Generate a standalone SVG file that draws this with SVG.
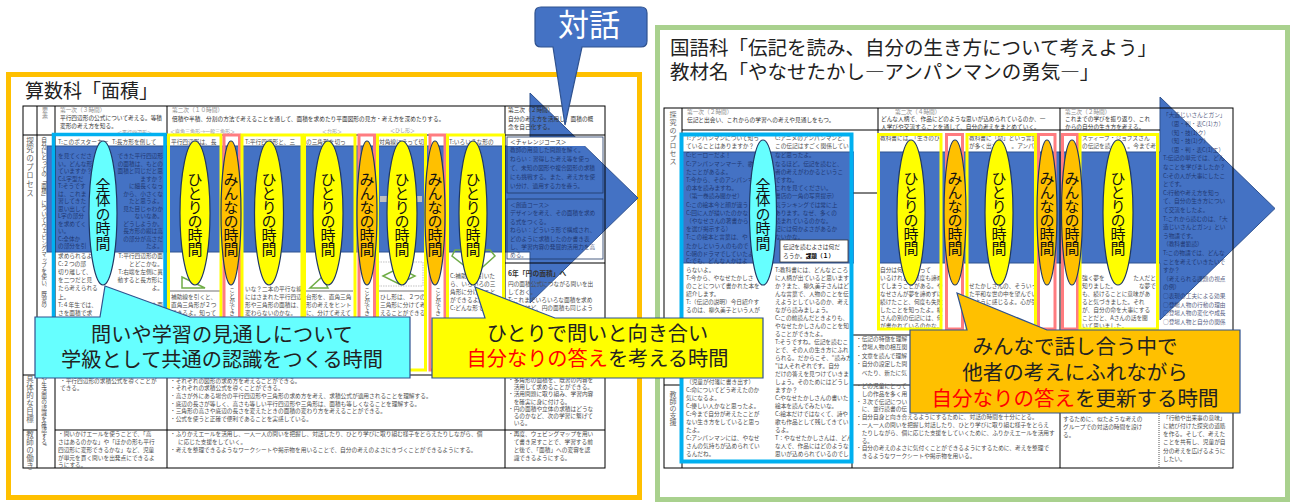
<svg xmlns="http://www.w3.org/2000/svg" width="1294" height="502" viewBox="0 0 1294 502">
<style>
.j{font-family:"Noto Sans CJK JP","Noto Sans",sans-serif}
.s{font-size:5.7px;fill:#4d4d4d}
.g{fill:#8c8c8c}
.k{fill:#333}
.d{fill:#152757;opacity:.75}
.v{writing-mode:vertical-rl}
.lb{font-size:7.5px;fill:#666}
.e{font-size:15px;fill:#111;text-anchor:middle;writing-mode:vertical-rl;letter-spacing:-1px}
.e5{letter-spacing:-0.5px}
.cl{font-size:20.2px;fill:#222;text-anchor:middle}
.yb{fill:none;stroke:#FFFF00;stroke-width:3}
.pb{fill:none;stroke:#FF7C80;stroke-width:3}
.cb{fill:none;stroke:#00B0F0;stroke-width:3.5}
.tl{fill:none;stroke:#000;stroke-width:1}
.fig{fill:none;stroke:#70AD47;stroke-width:1.5}
.dot{fill:none;stroke:#999;stroke-width:.6;stroke-dasharray:1.5 1}
.ey{fill:#FFFF00;stroke:#1F3864;stroke-width:1.2}
.eo{fill:#FFC000;stroke:#1F3864;stroke-width:1.2}
.ec{fill:#66FFFF;stroke:#1F3864;stroke-width:1.2}
.arr{fill:#4472C4;stroke:#2F528F;stroke-width:1}
</style>
<rect width="1294" height="502" fill="#fff"/>
<g class="j">

<!-- ===== LEFT PANEL ===== -->
<g id="left-panel">
<rect x="8.5" y="74.5" width="631" height="423" fill="#fff" stroke="#FFC000" stroke-width="5"/>
<text x="25" y="98" font-size="19" fill="#222">算数科「面積」</text>
</g>

<g id="left-arrow">
<path class="arr" d="M47,146 H530 V93 L638,198 L530,303 V252 H47 Z"/>
<rect x="507" y="137" width="96" height="9" fill="#fff"/>
</g>

<g id="left-table">
<rect class="tl" x="23" y="106" width="582" height="362"/>
<path class="tl" d="M37,106V468 M55,106V468 M167,106V468 M505,106V468 M23,135H605 M23,375H37 M55,375H605 M23,430H37 M55,430H605 M505,263H605"/>
<rect x="507" y="137" width="96" height="56" fill="none" stroke="#1F3864" stroke-width=".8"/>
<rect x="507" y="199" width="96" height="60" fill="none" stroke="#1F3864" stroke-width=".8"/>
<path d="M170,291H220 M306,291H353 M379,291H424" stroke="#333" stroke-width=".7"/>
<rect x="380" y="196" width="42" height="6" fill="#bfbfbf"/>
<text class="lb v" x="30" y="137" letter-spacing="1.2">探究のプロセス</text>
<text class="lb v" x="30" y="375" letter-spacing=".5">具体的な目標</text>
<text class="lb v" x="30" y="430" letter-spacing=".5">教師の働き</text>
<text class="s g v" x="45" y="107" style="font-size:6px">要素</text>
<text class="s v" x="44" y="137">自分にとっての「面積」についてウェビングマップを使い、既習の</text>
<text class="s v" x="44" y="376">や生活面の認識を確認する。</text>
<text class="s g" x="60" y="112">第一次（３時間）</text>
<text class="s k" x="60" y="120">平行四辺形の公式について考える。等積</text>
<text class="s k" x="60" y="128">変形の考え方を知る。</text>
<text class="s g" x="117" y="134" style="font-size:5px">＜平行四辺形＞</text>
<text class="s g" x="172" y="112">第二次（１０時間）</text>
<text class="s k" x="172" y="121">倍積や半積、分割の方法で考えることを通して、面積を求めたり平面図形の見方・考え方を深めたりする。</text>
<text class="s g" x="170" y="133" style="font-size:5px">＜直角三角形→一般三角形＞</text>
<text class="s g" x="322" y="133" style="font-size:5px">＜台形＞</text>
<text class="s g" x="390" y="132" style="font-size:5px">＜ひし形＞</text>
<text class="s k" x="508" y="112">第三次（２時間）</text>
<text class="s k" x="508" y="121">自分の考え方を活用し、面積の概</text>
<text class="s k" x="508" y="129">念を自己化する。</text>
<text class="s" x="58" y="144">T:このポスターカー</text>
<text class="s" x="112" y="144">T:長方形を倒して</text>
<text class="s" x="171" y="144">平行四辺形は、長</text>
<text class="s" x="245" y="144">T:平行四辺形と、三</text>
<text class="s" x="306" y="144">の三角形を切っ</text>
<text class="s" x="379" y="144">対角線にそって切</text>
<text class="s" x="449" y="144">T:いろいろな形の</text>
<text class="s k" x="510" y="144">＜チャレンジコース＞</text>
<g class="s d">
<text x="58" y="158">を見てくださ</text><text x="163" y="158" text-anchor="end">できた平行四辺形</text>
<text x="58" y="165.5">い。どんな形</text><text x="163" y="165.5" text-anchor="end">の面積は、もとの</text>
<text x="58" y="173">ていますか？</text><text x="163" y="173" text-anchor="end">面積と同じだと思</text>
<text x="58" y="180.5">C:L字型だ</text><text x="163" y="180.5" text-anchor="end">ますか？</text>
<text x="58" y="188">T:そうです</text><text x="163" y="188" text-anchor="end">に細長くなっ</text>
<text x="58" y="195.5">は、これま</text><text x="163" y="195.5" text-anchor="end">から、小さくな</text>
<text x="58" y="203">習してきた</text><text x="163" y="203" text-anchor="end">たと思うよ。</text>
<text x="58" y="210.5">思い出して</text><text x="163" y="210.5" text-anchor="end">見た目じゃわか</text>
<text x="58" y="218">L字の部分</text><text x="163" y="218" text-anchor="end">ないなあ。</text>
<text x="58" y="225.5">を求めてく</text><text x="163" y="225.5" text-anchor="end">どうしようか。</text>
<text x="58" y="233">い。</text><text x="163" y="233" text-anchor="end">長方形の縦は高</text>
<text x="58" y="240.5">C:全体か</text><text x="163" y="240.5" text-anchor="end">の部分が高さだ</text>
<text x="58" y="248">の部分を引</text><text x="163" y="248" text-anchor="end">たよ。</text>
<text x="510" y="152">教師の用意した問題を解く。</text>
<text x="510" y="161">ねらい：習得した考え等を使っ</text>
<text x="510" y="170">て、未知の図形や複合図形の求積</text>
<text x="510" y="179">にも挑戦する。また、考え方を使</text>
<text x="510" y="188">い分け、適用する力を養う。</text>
<text x="510" y="206.5">＜創造コース＞</text>
<text x="510" y="215">デザインを考え、その面積を求め</text>
<text x="510" y="223.5">る式をつくる。</text>
<text x="510" y="232">ねらい：どういう形で構成され、</text>
<text x="510" y="240.5">どのように求積したのか書き表</text>
<text x="510" y="249">し、学習内容の発展的活用力を高</text>
<text x="510" y="257">める。</text>
</g>
<g class="s">
<text x="58" y="258">求められるよ</text><text x="163" y="258" text-anchor="end">T:平行四辺形の面</text>
<text x="58" y="265.5">C:２つの部</text><text x="163" y="265.5" text-anchor="end">とどこかな。</text>
<text x="58" y="274">切り離して、</text><text x="163" y="274" text-anchor="end">T:右端を左側に異</text>
<text x="58" y="282">を二つだと見</text><text x="163" y="282" text-anchor="end">動すると長方形に</text>
<text x="58" y="289.5">たら考えられる</text><text x="163" y="289.5" text-anchor="end">よ。</text>
<text x="58" y="298.5">上。</text>
<text x="58" y="307">T:４年生では、</text><text x="163" y="307" text-anchor="end">も面</text>
<text x="58" y="315">さを面積で求</text>
<text x="171" y="298.5">補助線を引くと、</text>
<text x="171" y="307">直角三角形が２つ</text>
<text x="171" y="315">できるよ。知って</text>
<text x="245" y="290.5">いな？二本の平行な線</text>
<text x="245" y="298.5">にはさまれた平行四辺</text>
<text x="245" y="307">形や三角形の面積は、</text>
<text x="245" y="315">変わらないのかな。</text>
<text x="306" y="298.5">台形を、直角三角</text>
<text x="306" y="307">形の考えをヒント</text>
<text x="306" y="315">に、分けて考えて</text>
<text x="380" y="298.5">ひし形は、２つの</text>
<text x="380" y="307">三角形に分けて考</text>
<text x="380" y="315">えることができる</text>
<text x="450" y="277.5">C:補助線を引いた</text>
<text x="450" y="285.5">ら、いろいろの三</text>
<text x="450" y="294">角形に分けること</text>
<text x="450" y="302">ができるよ。</text>
<text x="450" y="310">C:どんな形でも</text>
<text class="v" x="232" y="287">ことができ</text>
<text class="v" x="367" y="287">ことができ</text>
<text class="v" x="438" y="287">ことができ</text>
<text x="508" y="276" style="font-size:6.8px;font-weight:bold;fill:#333">6年「円の面積」へ</text>
<text x="508" y="285.5">円の面積公式につながる問いを出</text>
<text x="508" y="293.5">しておく。</text>
<text x="508" y="301.5">T:これまでいろいろな面積を求め</text>
<text x="508" y="309.5">てきたけど、円の面積も同じよう</text>
<text x="60" y="382.5">・平行四辺形の求積公式を導くことが</text>
<text x="60" y="390.2">できる。</text>
<text x="170" y="382.5">・それぞれの図形の求め方を考えることができる。</text>
<text x="170" y="390.2">・それぞれの求積公式を導くことができる。</text>
<text x="170" y="397.9">・高さが外にある場合の平行四辺形や三角形の求め方を考え、求積公式が適用されることを理解する。</text>
<text x="170" y="405.6">・底辺の長さが等しく、高さも等しい平行四辺形や三角形は、面積も等しくなることを理解する。</text>
<text x="170" y="413.3">・三角形の高さや底辺の長さを変えたときの面積の変わり方を考えることができる。</text>
<text x="170" y="421">・公式を使うと正確で便利であることを実感している。</text>
<text x="508" y="382">・多角形の面積を、既習の内容を</text>
<text x="508" y="389.2">　活用して求めることができる。</text>
<text x="508" y="396.4">・活用問題に取り組み、学習内容</text>
<text x="508" y="403.6">　を確実に身に付ける。</text>
<text x="508" y="410.8">・円の面積や立体の求積はどうな</text>
<text x="508" y="418">　るのかなど、次の学習に繋げて</text>
<text x="508" y="425.2">　いる。</text>
<text x="58" y="435.5">・問いかけエールを使うことで、「高</text>
<text x="58" y="443.5">さはあるのかな」や「ほかの形も平行</text>
<text x="58" y="451.5">四辺形に変形できるかな」など、児童</text>
<text x="58" y="459.5">が単元を貫く問いを出発点にできるよ</text>
<text x="58" y="467">うにする。</text>
<text x="170" y="435.5">・ふりかえエールを活用し、一人一人の問いを把握し、対話したり、ひとり学びに取り組む様子をとらえたりしながら、個</text>
<text x="178" y="443.5">に応じた支援をしていく。</text>
<text x="170" y="452">・考えを整理できるようなワークシートや掲示物を用いることで、自分の考えのよさにきづくことができるようにする。</text>
<text x="508" y="436">・再度、ウェビングマップを用い</text>
<text x="508" y="444">　て書き足すことで、学習する前</text>
<text x="508" y="452">　と後で、「面積」への変容を認</text>
<text x="508" y="460">　識できるようにする。</text>
</g>
<polygon class="fig" points="182,277 182,288 205,288"/>
<polygon class="fig" points="310,288 328,288 322,277"/>
<rect class="dot" x="378" y="262" width="45" height="24"/>
<polygon class="fig" points="383,276 399,268 415,276 399,284"/>
<polygon class="fig" points="455,250 490,250 495,256 475,274 452,256"/>
<rect class="cb" x="53.5" y="134.5" width="111.5" height="237"/>
<rect class="yb" x="168.5" y="135" width="52.5" height="235"/>
<rect class="pb" x="224" y="135" width="15.5" height="235"/>
<rect class="yb" x="242" y="135" width="60" height="235"/>
<rect class="yb" x="304.5" y="135" width="50.5" height="235"/>
<rect class="pb" x="359" y="135" width="15.5" height="235"/>
<rect class="yb" x="377.5" y="135" width="48" height="235"/>
<rect class="pb" x="430" y="135" width="15" height="235"/>
<rect class="yb" x="447.5" y="135" width="56" height="235"/>
</g>

<!-- ===== RIGHT PANEL ===== -->
<g id="right-panel">
<rect x="657.5" y="27.5" width="630" height="472" fill="#fff" stroke="#A9D18E" stroke-width="5"/>
<text x="670" y="55.4" font-size="19.5" fill="#222">国語科「伝記を読み、自分の生き方について考えよう」</text>
<text x="670" y="79.4" font-size="19.5" fill="#222">教材名「やなせたかし―アンパンマンの勇気―」</text>
</g>

<g id="right-arrow">
<path class="arr" d="M682,152 H1160 V97 L1275,208.5 L1160,320 V263 H682 Z"/>
<rect x="854" y="133" width="23" height="131" fill="#fff"/>
</g>

<g id="right-table">
<rect class="tl" x="664" y="108" width="569" height="360"/>
<path class="tl" d="M682,108V468 M878,108V133 M852,133V468 M1060,108V468 M682,130H1160 M852,193H878 M852,335H1160 M664,385H682 M852,385H1233"/>
<path d="M1159,330V468" stroke="#aaa" stroke-width="2" stroke-dasharray="1 1"/>
<text class="lb v" x="673" y="111" letter-spacing=".8" style="font-size:7px">探究のプロセス</text>
<text class="lb v" x="673" y="391" style="font-size:7px">教師の支援</text>
<g class="s">
<text class="g" x="687" y="113.5">第一次（２時間）</text>
<text class="k" x="687" y="121.5">伝記と出会い、これからの学習への考えや見通しをもつ。</text>
<text class="g" x="895" y="113.5">第二次（４時間）</text>
<text class="k" x="881" y="121">どんな人柄で、作品にどのような思いが込められているのか、一</text>
<text class="k" x="881" y="129">人学びや交流することを通して、自分の考えをまとめていく。</text>
<text class="g" x="1065" y="113.5">第三次（２時間）</text>
<text class="k" x="1065" y="121">これまでの学びを振り返り、これ</text>
<text class="k" x="1065" y="129">からの自分の生き方を考える。</text>
<text x="686" y="139.5">T:アンパンマンについて知っ</text>
<text x="686" y="148">ていることはありますか？</text>
<text x="775" y="139.5">C:アニメのアンパンマンと、</text>
<text x="775" y="148">この伝記はすごく関係してい</text>
<text x="880" y="139.5">教科書には、「生きのひ</text>
<text x="969" y="139.5">教科書に「命」という言葉</text>
<text x="969" y="148">が多く出て</text><text x="1034" y="148" text-anchor="end">。アンパ</text>
<text x="1082" y="139.5">スティーブ・ジョブズさん</text>
<text x="1082" y="148">の伝記を読</text><text x="1156" y="148" text-anchor="end">。今まで考</text>
</g>
<g class="s d">
<text x="686" y="157.3">C:ヒーローだよ！</text><text x="775" y="157.3">など思ったよ。</text>
<text x="686" y="165.5">C:アンパンマンマーチ、歌</text><text x="775" y="165.5">なるほど。伝記を読むと、</text>
<text x="686" y="173.7">たことがあるよ。</text><text x="775" y="173.7">者の考えがわかるというこ</text>
<text x="686" y="181.9">T:今から、そのアンパンマ</text><text x="775" y="181.9">ですね。</text>
<text x="686" y="190.1">の本を読みますね。</text><text x="775" y="190.1">これを見てください。</text>
<text x="686" y="198.3">（第一巻読み聞かせ）</text><text x="775" y="198.3">書店の一角の写真提示）</text>
<text x="686" y="206.5">C:この絵本今と顔が違う</text><text x="775" y="206.5">気ランキングでは常に上</text>
<text x="686" y="214.7">C:回に人が描いたのかな</text><text x="775" y="214.7">あります。なぜ、多くの</text>
<text x="686" y="222.9">（やなせさんの著書から</text><text x="775" y="222.9">読まれているのかな。</text>
<text x="686" y="231.1">を選び掲示する）</text><text x="775" y="231.1">記には何かよさがあるか</text>
<text x="686" y="239.3">T:この絵本と言葉は、や</text><text x="775" y="239.3">ないかな。</text>
<text x="686" y="247.5">たかしという人のもので</text>
<text x="686" y="255.7">C:朝のドラマでしていたよ</text>
<text x="686" y="263">C:でも、どんな人かはよ</text>
<text x="1163" y="117.3">「大造じいさんとガン」</text>
<text x="1168" y="125.9">（思・判・表C(1)カ）</text>
<text x="1168" y="134.5">（知・技(1)ク）</text>
<text x="1168" y="143.1">（知・技(1)ク）</text>
<text x="1168" y="151.7">（思・判・表C(1)エ）</text>
<text x="1163" y="160.3">T:伝記の単元では、どん</text>
<text x="1163" y="168.9">なことを学びましたか？</text>
<text x="1163" y="177.5">C:その人が大事にしたこ</text>
<text x="1163" y="186.1">とです。</text>
<text x="1163" y="194.7">C:行動や考え方を知っ</text>
<text x="1163" y="203.3">て、自分の生き方につい</text>
<text x="1163" y="211.9">て交流をしたよ。</text>
<text x="1163" y="220.5">T:これから読むのは、「大</text>
<text x="1163" y="229.1">造じいさんとガン」とい</text>
<text x="1163" y="237.7">う物語です。</text>
<text x="1163" y="246.3">（教科書範読）</text>
<text x="1163" y="254.9">T:この物語では、どんな</text>
<text x="1163" y="263.5">ことを考えていきたいで</text>
<text x="1163" y="272.1">すか？</text>
<text x="1163" y="280.7">（考えられる課題の視点</text>
<text x="1163" y="289.3">の例）</text>
<text x="1163" y="297.9">○表現の工夫による効果</text>
<text x="1163" y="306.5">○登場人物の行動の理由</text>
<text x="1163" y="315.1">○登場人物の変化や成長</text>
<text x="1163" y="323.7">○登場人物と自分の関係</text>
</g>
<rect x="780" y="240" width="68" height="22" fill="#fff" stroke="#333" stroke-width=".8"/>
<text class="s k" x="783" y="249">伝記を読むよさは何だ</text>
<text class="s k" x="783" y="258">ろうか。<tspan font-weight="bold" fill="#000">課題（１）</tspan></text>
<g class="s">
<text x="686" y="271.6">らないよ。</text>
<text x="686" y="279.6">T:今から、やなせたかしさ</text>
<text x="686" y="287.6">のことについて書かれた本を</text>
<text x="686" y="295.6">紹介します。</text>
<text x="686" y="303.6">T:（伝記の説明）今日紹介す</text>
<text x="686" y="311.6">るのは、柳久美子という人が</text>
<text x="686" y="383.6">（児童が付箋に書き出す）</text>
<text x="686" y="391.6">C:命についてどう考えたのか</text>
<text x="686" y="399.6">気になるよ。</text>
<text x="686" y="407.6">C:優しい人かなと思ったよ。</text>
<text x="686" y="415.6">C:今まで自分が考えたことが</text>
<text x="686" y="423.6">ない生き方をしていると思っ</text>
<text x="686" y="431.6">たよ。</text>
<text x="686" y="439.6">C:アンパンマンには、やなせ</text>
<text x="686" y="447.6">さんの気持ちが込められてい</text>
<text x="686" y="455.6">るんだね。</text>
<text x="775" y="271.6">T:教科書には、どんなところ</text>
<text x="775" y="279.6">に人柄が出ていると思います</text>
<text x="775" y="287.6">か？また、柳久美子さんはど</text>
<text x="775" y="295.6">んな言葉で、人物のことを伝</text>
<text x="775" y="303.6">えようとしているのか、考え</text>
<text x="775" y="311.6">ながら読みましょう。</text>
<text x="775" y="319.6">C:この前読んだときよりも、</text>
<text x="775" y="327.6">やなせたかしさんのことを知</text>
<text x="775" y="335.6">ることができたよ。</text>
<text x="775" y="343.6">T:そうですね。伝記を読むこ</text>
<text x="775" y="351.6">とで、その人の生き方にふれ</text>
<text x="775" y="359.6">られる。だからこそ、“読み方</text>
<text x="775" y="367.6">”は人それぞれです。自分</text>
<text x="775" y="375.6">だけの答えを見つけていきま</text>
<text x="775" y="383.6">しょう。そのためにはどうし</text>
<text x="775" y="391.6">ますか？</text>
<text x="775" y="399.6">C:やなせたかしさんの書いた</text>
<text x="775" y="407.6">絵本を読んでみたいな。</text>
<text x="775" y="415.6">C:絵本だけではなくて、詩や</text>
<text x="775" y="423.6">歌も作品として残してきてい</text>
<text x="775" y="431.6">るよ。</text>
<text x="775" y="439.6">T：やなせたかしさんは、どん</text>
<text x="775" y="447.6">な人で、作品にはどのような</text>
<text x="775" y="455.6">思いが込められているのでし</text>
<text x="880" y="271.6">自分は何かを習って</text>
<text x="880" y="279.6">いるけれど、何度も諦め</text>
<text x="880" y="287.6">てしまうことがある。や</text>
<text x="880" y="295.6">なせさんが夢を諦めずに</text>
<text x="880" y="303.6">続けたこと、何度も失敗</text>
<text x="880" y="311.6">したことを知ったよ。柳</text>
<text x="880" y="319.6">さんの別の伝記には、何</text>
<text x="880" y="327.6">が書かれているのかな。</text>
<text x="969" y="287.6">せたかしさんの、そういっ</text>
<text x="969" y="295.6">た平和な世の中を望んでい</text>
<text x="969" y="303.6">るように感じるよ。心が強</text>
<text x="1082" y="279.6">強く夢を</text><text x="1156" y="279.6" text-anchor="end">た人だと</text>
<text x="1082" y="287.6">知りました。</text><text x="1156" y="287.6" text-anchor="end">な夢で</text>
<text x="1082" y="295.6">も、続けることに意味があ</text>
<text x="1082" y="303.6">ると気づきました。それ</text>
<text x="1082" y="311.6">が、自分の命を大事にする</text>
<text x="1082" y="319.6">ことだと、Aさんの話を聞</text>
<text x="1082" y="327.6">いて思いました。</text>
<text x="856" y="340.5">・伝記の特徴を理解</text>
<text x="856" y="349">・登場人物の相互関</text>
<text x="856" y="357.5">・文章を読んで理解</text>
<text x="856" y="366">・自分の設定した問</text>
<text x="856" y="374.5">　べたり、新たに気</text>
<text x="856" y="388">・どの児童にとって</text>
<text x="856" y="395.8">　しの作品を多く用</text>
<text x="856" y="403.6">・３次で伝記につい</text>
<text x="856" y="411.4">　に、並行読書の伝</text>
<text x="856" y="419.2">・自分自身と向き合えるようにするために、対話の時間を十分にとる。</text>
<text x="856" y="427">・一人一人の問いを把握し対話したり、ひとり学びに取り組む様子をとらえ</text>
<text x="856" y="434.8">　たりしながら、個に応じた支援をしていくために、ふりかえエールを活用す</text>
<text x="856" y="442.6">　る。</text>
<text x="856" y="450.4">・自分の考えのよさに気付くことができるようにするために、考えを整理で</text>
<text x="856" y="458.2">　きるようなワークシートや掲示物を用いる。</text>
<text x="1063" y="421">するために、似たような考えの</text>
<text x="1063" y="429.2">グループでの対話の時間を設け</text>
<text x="1063" y="437.4">る。</text>
<text x="1163" y="419.5">「行動や出来事の意味」</text>
<text x="1163" y="427.8">に結び付けた探究の道筋</text>
<text x="1163" y="436">を作る。そして、考えた</text>
<text x="1163" y="444.3">ことを共有し、児童が自</text>
<text x="1163" y="452.6">分の考えを広げるように</text>
<text x="1163" y="461">したい。</text>
</g>
<rect class="cb" x="681.5" y="134.5" width="170" height="327" style="stroke-width:4"/>
<rect class="yb" x="878.5" y="134.5" width="62.5" height="194.5"/>
<rect class="pb" x="946.5" y="134.5" width="16" height="194.5"/>
<rect class="yb" x="967" y="134.5" width="68.5" height="194.5"/>
<rect class="pb" x="1038.5" y="134.5" width="16.5" height="194.5"/>
<rect class="pb" x="1062.5" y="134.5" width="15" height="194.5"/>
<rect class="yb" x="1080" y="134.5" width="77.5" height="194.5"/>
</g>

<!-- ===== ELLIPSE NODES (left) ===== -->
<g id="l-zentai"><ellipse class="ec" cx="103" cy="213" rx="14" ry="72"/><text class="e e5" x="103" y="214">全体の時間</text></g>
<g id="l-hitori1"><ellipse class="ey" cx="195" cy="213" rx="15" ry="72"/><text class="e" x="195" y="213.5">ひとりの時間</text></g>
<g id="l-minna1"><ellipse class="eo" cx="231" cy="213" rx="10" ry="72"/><text class="e" x="231" y="213.5">みんなの時間</text></g>
<g id="l-hitori2"><ellipse class="ey" cx="269" cy="213" rx="14.5" ry="72"/><text class="e" x="269" y="213.5">ひとりの時間</text></g>
<g id="l-hitori3"><ellipse class="ey" cx="328" cy="213" rx="15" ry="72"/><text class="e" x="328" y="213.5">ひとりの時間</text></g>
<g id="l-minna2"><ellipse class="eo" cx="367" cy="213" rx="10" ry="72"/><text class="e" x="367" y="213.5">みんなの時間</text></g>
<g id="l-hitori4"><ellipse class="ey" cx="402" cy="213" rx="15" ry="72"/><text class="e" x="402" y="213.5">ひとりの時間</text></g>
<g id="l-minna3"><ellipse class="eo" cx="435" cy="213" rx="10" ry="72"/><text class="e" x="435" y="213.5">みんなの時間</text></g>
<g id="l-hitori5"><ellipse class="ey" cx="473" cy="213" rx="14" ry="72"/><text class="e" x="473" y="213.5">ひとりの時間</text></g>

<!-- ===== ELLIPSE NODES (right) ===== -->
<g id="r-zentai"><ellipse class="ec" cx="763" cy="212.5" rx="13.5" ry="72.5"/><text class="e e5" x="763" y="214">全体の時間</text></g>
<g id="r-hitori1"><ellipse class="ey" cx="911" cy="212.5" rx="14" ry="72.5"/><text class="e" x="911" y="212.5">ひとりの時間</text></g>
<g id="r-minna1"><ellipse class="eo" cx="955" cy="212.5" rx="11" ry="72.5"/><text class="e" x="955" y="212.5">みんなの時間</text></g>
<g id="r-hitori2"><ellipse class="ey" cx="999" cy="212.5" rx="14" ry="72.5"/><text class="e" x="999" y="212.5">ひとりの時間</text></g>
<g id="r-minna2"><ellipse class="eo" cx="1047" cy="212.5" rx="10" ry="72.5"/><text class="e" x="1047" y="212.5">みんなの時間</text></g>
<g id="r-minna3"><ellipse class="eo" cx="1072" cy="212.5" rx="10.5" ry="72.5"/><text class="e" x="1072" y="212.5">みんなの時間</text></g>
<g id="r-hitori3"><ellipse class="ey" cx="1118" cy="212.5" rx="15" ry="72.5"/><text class="e" x="1118" y="212.5">ひとりの時間</text></g>

<!-- ===== CALLOUTS ===== -->
<g id="callout-zentai">
<path d="M35,317 H100 L105,286 L190,317 H410 V378 H35 Z" fill="#66FFFF" stroke="#2F528F" stroke-width="1.2"/>
<text class="cl" x="222" y="341.8">問いや学習の見通しについて</text>
<text class="cl" x="222" y="366.5">学級として共通の認識をつくる時間</text>
</g>
<g id="callout-hitori">
<path d="M432,318 H485 L475,287 L555,318 H763 V378 H432 Z" fill="#FFFF00" stroke="#2F528F" stroke-width="1.2"/>
<text class="cl" x="597.5" y="341.3">ひとりで問いと向き合い</text>
<text class="cl" x="597.5" y="366"><tspan fill="#FF0000">自分なりの答え</tspan>を考える時間</text>
</g>
<g id="callout-minna">
<path d="M910,330 H967 L957,293 L1047,330 H1240 V413 H910 Z" fill="#FFC000" stroke="#2F528F" stroke-width="1.2"/>
<text class="cl" x="1075" y="353.5" style="font-size:20.5px">みんなで話し合う中で</text>
<text class="cl" x="1075" y="380" style="font-size:20.5px">他者の考えにふれながら</text>
<text class="cl" x="1075" y="406.3" style="font-size:20.5px"><tspan fill="#FF0000">自分なりの答え</tspan>を更新する時間</text>
</g>
<g id="taiwa">
<path d="M541,7 H641 Q647,7 647,13 V41 Q647,47 641,47 H582 L565,125 L553,47 H541 Q535,47 535,41 V13 Q535,7 541,7 Z" fill="#4472C4" stroke="#2F528F" stroke-width="1.2"/>
<text x="589" y="35.5" font-size="31" fill="#fff" text-anchor="middle">対話</text>
</g>
</g>
</svg>
